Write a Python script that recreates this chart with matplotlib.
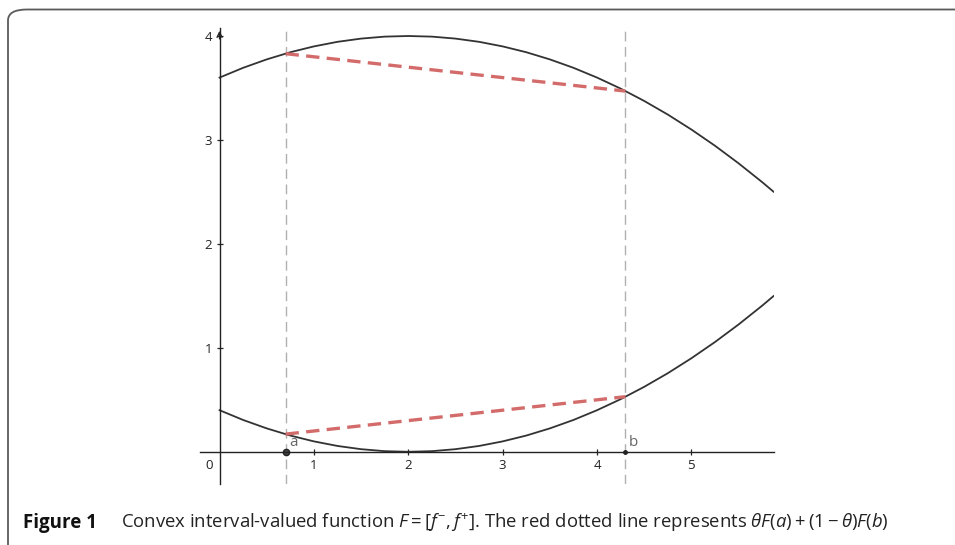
import matplotlib
matplotlib.use("Agg")
import matplotlib.pyplot as plt
from matplotlib.patches import FancyBboxPatch

plt.rcParams['font.family'] = ['Open Sans', 'DejaVu Sans']
plt.rcParams['mathtext.fontset'] = 'custom'
plt.rcParams['mathtext.rm'] = 'Open Sans'
plt.rcParams['mathtext.it'] = 'Open Sans:italic'

# values
x_pts = [0, 0.25, 0.5, 0.75, 1, 1.25, 1.5, 1.75, 2, 2.25, 2.5, 2.75, 3,
         3.25, 3.5, 3.75, 4, 4.25, 4.5, 4.75, 5, 5.25, 5.5, 5.75, 5.87]
f_plus = [3.600, 3.694, 3.775, 3.844, 3.900, 3.944, 3.975, 3.994, 4.000,
          3.994, 3.975, 3.944, 3.900, 3.844, 3.775, 3.694, 3.600, 3.494,
          3.375, 3.244, 3.100, 2.944, 2.775, 2.594, 2.502]
f_minus = [0.400, 0.306, 0.225, 0.156, 0.100, 0.056, 0.025, 0.006, 0.000,
           0.006, 0.025, 0.056, 0.100, 0.156, 0.225, 0.306, 0.400, 0.506,
           0.625, 0.756, 0.900, 1.056, 1.225, 1.406, 1.498]
a, b = 0.7, 4.3
upper_chord = [3.83, 3.47]
lower_chord = [0.17, 0.53]
x_ticks = [1, 2, 3, 4, 5]
y_ticks = [1, 2, 3, 4]

fig = plt.figure(figsize=(9.55, 5.45), dpi=100)
W, H = 955, 545

# open frame round the figure (top and left edge, rounded corner)
frame = FancyBboxPatch((8 / W, -0.2), 1.2, (H - 9.5) / H + 0.2,
                       boxstyle="round,pad=0,rounding_size=0.02",
                       transform=fig.transFigure, fill=False,
                       edgecolor="#5a5a5a", linewidth=1.3)
fig.patches.append(frame)

ax = fig.add_axes([200 / W, (H - 484) / H, (774 - 200) / W, (484 - 28) / H])
ax.set_xlim(-0.207, 5.875)
ax.set_ylim(-0.31, 4.077)

for s in ['top', 'right']:
    ax.spines[s].set_visible(False)
ax.spines['left'].set_position(('data', 0))
ax.spines['bottom'].set_position(('data', 0))
for s in ['left', 'bottom']:
    ax.spines[s].set_color('#222222')
    ax.spines[s].set_linewidth(1.0)

ax.set_xticks(x_ticks)
ax.set_yticks(y_ticks)
ax.tick_params(direction='inout', length=5, width=0.9, color='#222222',
               labelsize=9.5, labelcolor='#222222', pad=3)
ax.text(-0.07, -0.07, "0", ha='right', va='top', fontsize=9.5, color='#222222')

# arrow head on the y axis
ax.annotate("", xy=(0, 1.0), xytext=(0, 0.97),
            xycoords=('data', 'axes fraction'),
            arrowprops=dict(arrowstyle='->', color='#222222', lw=1.0,
                            mutation_scale=9))

# vertical dashed guides at a and b
for xv in [a, b]:
    ax.axvline(xv, color='#b0b0b0', lw=1.0, dashes=(7, 4))

ax.plot(x_pts, f_plus, color='#333333', lw=1.3)
ax.plot(x_pts, f_minus, color='#333333', lw=1.3)

ax.plot([a, b], upper_chord, color='#d46b6b', lw=2.4, dashes=(4, 2.2))
ax.plot([a, b], lower_chord, color='#d46b6b', lw=2.4, dashes=(4, 2.2))

ax.plot(a, 0, 'o', ms=4.5, mfc='#444444', mec='#222222', mew=1.0, clip_on=False)
ax.plot(b, 0, 'o', ms=2.5, color='#222222', clip_on=False)
ax.text(a + 0.04, 0.02, "a", fontsize=11, color='#666666', ha='left', va='bottom')
ax.text(b + 0.04, 0.02, "b", fontsize=11, color='#666666', ha='left', va='bottom')

fig.text(23 / W, 1 - 523 / H, "Figure 1", fontsize=13.5, fontweight='bold',
         color='#111111', ha='left', va='center')
fig.text(121 / W, 1 - 523 / H,
         r"Convex interval-valued function $F=[f^{-},f^{+}]$. The red dotted line represents "
         r"$\theta F(a)+(1-\theta)F(b)$",
         fontsize=13.3, color='#222222', ha='left', va='center')

fig.savefig("out.png", dpi=100)
